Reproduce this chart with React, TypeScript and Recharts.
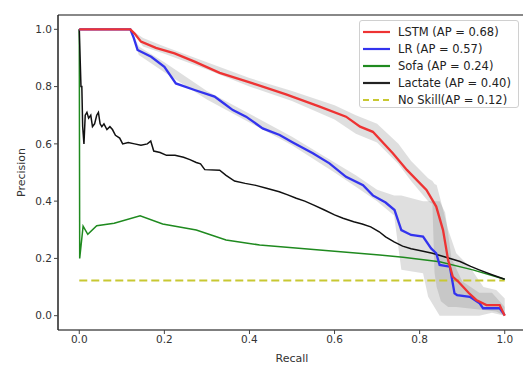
import React from 'react';
import { ComposedChart, Line, Area, XAxis, YAxis, ReferenceLine } from 'recharts';

// [recall, precision]
const lstmPoints = [
  [0, 1], [0.12, 1], [0.13, 0.985], [0.145, 0.957], [0.18, 0.935], [0.224, 0.916], [0.271, 0.887],
  [0.33, 0.848], [0.408, 0.811], [0.486, 0.773], [0.565, 0.73], [0.627, 0.695], [0.66, 0.66],
  [0.69, 0.642], [0.737, 0.567], [0.77, 0.509], [0.816, 0.439], [0.839, 0.381], [0.855, 0.299],
  [0.867, 0.194], [0.878, 0.136], [0.89, 0.12], [0.902, 0.101], [0.915, 0.08], [0.933, 0.055],
  [0.957, 0.037], [0.988, 0.037], [1.0, 0.0],
];

const lrPoints = [
  [0, 1], [0.12, 1], [0.128, 0.97], [0.137, 0.928], [0.169, 0.904], [0.2, 0.869], [0.227, 0.811],
  [0.271, 0.788], [0.318, 0.765], [0.341, 0.74], [0.361, 0.718], [0.392, 0.695], [0.431, 0.654],
  [0.471, 0.631], [0.502, 0.605], [0.549, 0.567], [0.588, 0.532], [0.627, 0.485], [0.667, 0.456],
  [0.69, 0.42], [0.72, 0.395], [0.741, 0.369], [0.757, 0.299], [0.78, 0.282], [0.808, 0.276],
  [0.827, 0.235], [0.839, 0.218], [0.847, 0.177], [0.871, 0.171], [0.882, 0.078], [0.888, 0.072],
  [0.918, 0.066], [0.941, 0.043], [0.949, 0.026], [0.988, 0.026], [1.0, 0.002],
];

const sofaPoints = [
  [0, 1], [0.001, 0.2], [0.009, 0.313], [0.02, 0.284], [0.041, 0.314], [0.082, 0.323], [0.143, 0.349],
  [0.196, 0.32], [0.275, 0.299], [0.345, 0.264], [0.424, 0.247], [0.6, 0.225], [0.706, 0.212],
  [0.761, 0.204], [0.847, 0.188], [0.925, 0.16], [1.0, 0.127],
];

const lactatePoints = [
  [0, 1], [0.004, 0.8], [0.006, 0.8], [0.008, 0.66], [0.011, 0.6], [0.014, 0.7], [0.018, 0.71],
  [0.022, 0.69], [0.027, 0.7], [0.031, 0.66], [0.036, 0.67], [0.041, 0.7], [0.045, 0.71], [0.049, 0.67],
  [0.053, 0.66], [0.058, 0.67], [0.065, 0.65], [0.072, 0.66], [0.078, 0.65], [0.085, 0.63],
  [0.095, 0.62], [0.102, 0.6], [0.115, 0.605], [0.13, 0.6], [0.145, 0.595], [0.16, 0.6], [0.168, 0.61],
  [0.175, 0.575], [0.19, 0.57], [0.205, 0.56], [0.225, 0.56], [0.245, 0.553], [0.26, 0.545],
  [0.275, 0.535], [0.285, 0.53], [0.295, 0.51], [0.33, 0.508], [0.345, 0.49], [0.365, 0.47],
  [0.39, 0.462], [0.415, 0.455], [0.44, 0.445], [0.47, 0.433], [0.49, 0.422], [0.51, 0.41],
  [0.53, 0.4], [0.55, 0.387], [0.575, 0.37], [0.6, 0.352], [0.62, 0.34], [0.645, 0.328],
  [0.665, 0.32], [0.685, 0.31], [0.705, 0.293], [0.72, 0.275], [0.74, 0.258], [0.76, 0.243],
  [0.78, 0.234], [0.8, 0.228], [0.83, 0.218], [0.86, 0.205], [0.895, 0.189], [0.92, 0.172],
  [0.94, 0.16], [0.97, 0.143], [1.0, 0.127],
];

const noSkillPoints = [[0, 0.123], [1.0, 0.123]];

// [recall, lower, upper]
const lstmBand = [
  [0.12, 1, 1], [0.15, 0.94, 0.97], [0.2, 0.915, 0.94], [0.3, 0.86, 0.885], [0.4, 0.8, 0.83],
  [0.5, 0.75, 0.785], [0.6, 0.685, 0.735], [0.65, 0.635, 0.7], [0.7, 0.605, 0.67], [0.75, 0.53, 0.6],
  [0.78, 0.47, 0.54], [0.82, 0.4, 0.48], [0.83, 0.39, 0.47], [0.835, 0.15, 0.46], [0.84, 0.1, 0.456],
  [0.85, 0.05, 0.4], [0.867, 0.03, 0.3], [0.886, 0.03, 0.218], [0.918, 0.025, 0.17], [0.95, 0.02, 0.1],
  [0.98, 0.015, 0.09], [1.0, 0.0, 0.06],
];

const lrBand = [
  [0.12, 1, 1], [0.14, 0.91, 0.94], [0.2, 0.85, 0.885], [0.3, 0.755, 0.785], [0.4, 0.675, 0.705],
  [0.5, 0.595, 0.625], [0.6, 0.5, 0.535], [0.65, 0.45, 0.49], [0.7, 0.4, 0.44], [0.74, 0.35, 0.42],
  [0.757, 0.16, 0.42], [0.808, 0.148, 0.4], [0.82, 0.066, 0.4], [0.847, 0.0, 0.4], [0.86, 0.0, 0.36],
  [0.875, 0.0, 0.2], [0.9, 0.0, 0.12], [0.94, 0.0, 0.08], [0.97, 0.01, 0.08], [1.0, 0.0, 0.03],
];

const axisTicks = [0, 0.2, 0.4, 0.6, 0.8, 1.0];

const legendItems = [
  { label: 'LSTM (AP = 0.68)', color: '#ee3333', dash: '' },
  { label: 'LR (AP = 0.57)', color: '#3333ee', dash: '' },
  { label: 'Sofa (AP = 0.24)', color: '#1f8a1f', dash: '' },
  { label: 'Lactate (AP = 0.40)', color: '#222222', dash: '' },
  { label: 'No Skill(AP = 0.12)', color: '#c8c832', dash: '6 4' },
];

const toPts = (arr: number[][]) => arr.map(([x, y]) => ({ x, y }));
const toBand = (arr: number[][]) => arr.map(([x, lo, hi]) => ({ x, range: [lo, hi] }));

const FONT = '"DejaVu Sans", sans-serif';

const LegendBox = () => (
  <div style={{
    position: 'absolute',
    left: 359,
    top: 20,
    width: 160,
    height: 88,
    border: '1px solid #d0d0d0',
    borderRadius: 3,
    background: 'rgba(255,255,255,0.85)',
    fontFamily: FONT,
    fontSize: 11.5,
    color: '#222',
    boxSizing: 'border-box',
    paddingTop: 2,
  }}>
    {legendItems.map(item => (
      <div key={item.label} style={{ display: 'flex', alignItems: 'center', height: 17 }}>
        <svg width={34} height={10} style={{ marginLeft: 1, marginRight: 3 }}>
          <line x1={2} y1={5} x2={29} y2={5} stroke={item.color} strokeWidth={2.2} strokeDasharray={item.dash || undefined} />
        </svg>
        <span>{item.label}</span>
      </div>
    ))}
  </div>
);

export default function App() {
  const tickStyle = { fontFamily: FONT, fontSize: 10.5, fill: '#333' };
  return (
    <div style={{ position: 'absolute', left: 0, top: 0, width: 523, height: 365, overflow: 'hidden', background: '#fff' }}>
      <ComposedChart width={540} height={365} margin={{ top: 15, right: 14, bottom: 0, left: 0 }}>
        <XAxis
          type="number"
          dataKey="x"
          domain={[-0.05, 1.05]}
          ticks={axisTicks}
          allowDataOverflow
          tickFormatter={(v: number) => v.toFixed(1)}
          tick={tickStyle}
          tickSize={4}
          height={35}
          stroke="#444"
          axisLine={{ stroke: '#555', strokeWidth: 1.5 }}
          tickLine={{ stroke: '#444' }}
          label={(props: any) => {
            const vb = props.viewBox;
            return (
              <text x={vb.x + vb.width / 2} y={362} textAnchor="middle" fontFamily={FONT} fontSize={11} fill="#333">
                Recall
              </text>
            );
          }}
        />
        <YAxis
          type="number"
          domain={[-0.05, 1.05]}
          ticks={axisTicks}
          allowDataOverflow
          tickFormatter={(v: number) => v.toFixed(1)}
          tick={tickStyle}
          tickSize={4}
          width={58}
          axisLine={{ stroke: '#222', strokeWidth: 1.5 }}
          tickLine={{ stroke: '#444' }}
          label={(props: any) => {
            const vb = props.viewBox;
            const cy = vb.y + vb.height / 2;
            return (
              <text x={22} y={cy} transform={`rotate(-90, 22, ${cy})`} textAnchor="middle" dominantBaseline="middle" fontFamily={FONT} fontSize={11} fill="#333">
                Precision
              </text>
            );
          }}
        />
        <ReferenceLine y={1.05} stroke="#888" strokeWidth={2} ifOverflow="visible" />
        <Area data={toBand(lstmBand)} dataKey="range" type="linear" stroke="none" fill="#808080" fillOpacity={0.25} isAnimationActive={false} />
        <Area data={toBand(lrBand)} dataKey="range" type="linear" stroke="none" fill="#808080" fillOpacity={0.25} isAnimationActive={false} />
        <Line data={toPts(noSkillPoints)} dataKey="y" type="linear" stroke="#c8c832" strokeWidth={2} strokeDasharray="8 4" dot={false} isAnimationActive={false} />
        <Line data={toPts(sofaPoints)} dataKey="y" type="linear" stroke="#1f8a1f" strokeWidth={1.5} dot={false} isAnimationActive={false} />
        <Line data={toPts(lactatePoints)} dataKey="y" type="linear" stroke="#111" strokeWidth={1.5} dot={false} isAnimationActive={false} />
        <Line data={toPts(lrPoints)} dataKey="y" type="linear" stroke="#3333ee" strokeWidth={2.3} dot={false} isAnimationActive={false} />
        <Line data={toPts(lstmPoints)} dataKey="y" type="linear" stroke="#ee3333" strokeWidth={2.3} dot={false} isAnimationActive={false} />
      </ComposedChart>
      <LegendBox />
    </div>
  );
}
